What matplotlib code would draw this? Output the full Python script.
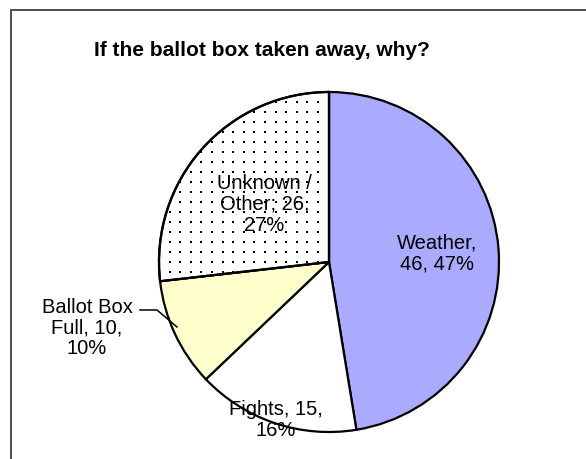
import matplotlib.pyplot as plt
import numpy as np
from matplotlib.patches import Rectangle, Wedge

# Reasons the ballot box was taken away (counts)
categories = ["Weather", "Fights", "Ballot Box\nFull", "Unknown /\nOther"]
counts = [46, 15, 10, 26]
colors = ["#AAAAFF", "#FFFFFF", "#FFFFCC", "#FFFFFF"]
dotted = [False, False, False, True]

W, H = 586, 459
plt.rcParams["font.family"] = ["Liberation Sans", "DejaVu Sans"]


def rounded_percents(values):
    # largest-remainder rounding so the shares add up to 100
    raw = 100 * np.asarray(values, dtype=float) / sum(values)
    out = np.floor(raw).astype(int)
    for i in np.argsort(-(raw - out))[: 100 - out.sum()]:
        out[i] += 1
    return out


fig = plt.figure(figsize=(W / 100, H / 100), dpi=100)
ax = fig.add_axes([0, 0, 1, 1])

# outer chart border (runs off the right and bottom edges)
fig.patches.append(Rectangle((11 / W, -0.1), 1.2, (H - 10) / H + 0.1, transform=fig.transFigure,
                             fill=False, edgecolor="#404040", linewidth=1.3))

center = (329, H - 262)
radius = 170

wedges, _ = ax.pie(counts, colors=colors, startangle=90, counterclock=False,
                   center=center, radius=radius,
                   wedgeprops=dict(edgecolor="black", linewidth=1.6))

# pie() resets the limits, so set the pixel-based frame afterwards
ax.set_xlim(0, W)
ax.set_ylim(0, H)
ax.set_aspect("equal")
ax.axis("off")

# dot fill pattern, clipped to the wedge
gx, gy = np.meshgrid(np.arange(center[0] - radius, center[0] + radius, 10.6),
                     np.arange(center[1] - radius, center[1] + radius, 10.0))
for w, dots in zip(wedges, dotted):
    if dots:
        sc = ax.scatter(gx.ravel(), gy.ravel(), s=3.0, marker="s", color="black",
                        linewidths=0, zorder=w.get_zorder() + 0.1)
        sc.set_clip_path(w)
        # redraw the outline above the dots
        ax.add_patch(Wedge(center, radius, w.theta1, w.theta2, fill=False,
                           edgecolor="black", linewidth=1.6, zorder=w.get_zorder() + 0.2))

pcts = rounded_percents(counts)
# radial position of each label as a fraction of the radius (None = outside with leader)
label_dist = [0.64, 0.98, None, 0.51]

for w, name, n, pct, d in zip(wedges, categories, counts, pcts, label_dist):
    mid = np.deg2rad((w.theta1 + w.theta2) / 2)
    if name.startswith("Unknown"):
        text = f"Unknown /\nOther; {n},\n{pct}%"
    elif name.startswith("Ballot"):
        text = f"Ballot Box\nFull, {n},\n{pct}%"
    elif name == "Weather":
        text = f"{name},\n{n}, {pct}%"
    else:
        text = f"{name}, {n},\n{pct}%"
    if d is not None:
        x = center[0] + d * radius * np.cos(mid)
        y = center[1] + d * radius * np.sin(mid)
        ax.text(x, y, text, ha="center", va="center", fontsize=14.5,
                linespacing=1.12, color="black", zorder=5)
    else:
        ex = center[0] + radius * np.cos(mid)
        ey = center[1] + radius * np.sin(mid)
        ax.plot([140, 157, ex + 2], [H - 310, H - 310, ey + 7], color="black", linewidth=1.1)
        ax.text(87, H - 328, text, ha="center", va="center", fontsize=14.5,
                linespacing=1.12, color="black")

ax.text(262, H - 50, "If the ballot box taken away, why?", ha="center", va="center",
        fontsize=15, fontweight="bold")

fig.savefig("out.png", dpi=100)
